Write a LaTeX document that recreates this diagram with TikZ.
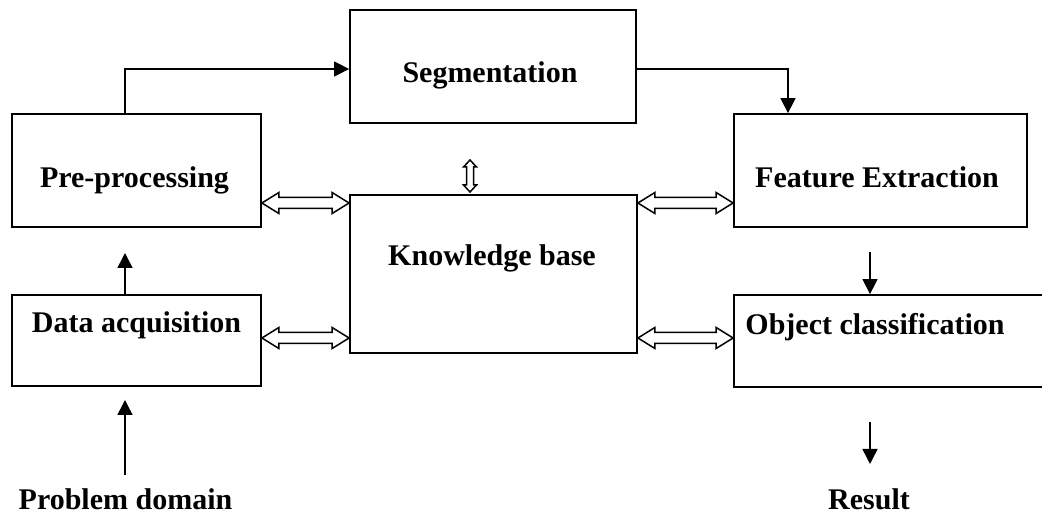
\documentclass[tikz,border=0pt]{standalone}
\usepackage{fontspec}
\setmainfont{Liberation Serif}
\usetikzlibrary{arrows.meta,calc}
\tikzset{
  box/.style={draw, line width=1.8pt, rectangle, inner sep=0pt},
  lbl/.style={font=\fontsize{30}{36}\selectfont\bfseries, anchor=base, inner sep=0pt},
  arr/.style={line width=1.5pt, -{Triangle[length=15pt,width=15pt]}},
  hollow/.style={draw, line width=1.5pt, fill=white, line join=miter}
}
\newcommand\hollowh[2]{\path[hollow] let \p1=(#1), \p2=(#2) in
  (\x1,\y1) -- (\x1+17pt,\y1+10.5pt) -- (\x1+17pt,\y1+5.5pt) -- (\x2-17pt,\y1+5.5pt)
  -- (\x2-17pt,\y1+10.5pt) -- (\x2,\y1) -- (\x2-17pt,\y1-10.5pt) -- (\x2-17pt,\y1-5.5pt)
  -- (\x1+17pt,\y1-5.5pt) -- (\x1+17pt,\y1-10.5pt) -- cycle;}
\newcommand\hollowv[2]{\path[hollow] let \p1=(#1), \p2=(#2) in
  (\x1,\y1) -- (\x1+6.5pt,\y1-7pt) -- (\x1+3.5pt,\y1-7pt) -- (\x1+3.5pt,\y2+7pt)
  -- (\x1+6.5pt,\y2+7pt) -- (\x1,\y2) -- (\x1-6.5pt,\y2+7pt) -- (\x1-3.5pt,\y2+7pt)
  -- (\x1-3.5pt,\y1-7pt) -- (\x1-6.5pt,\y1-7pt) -- cycle;}
\begin{document}
\begin{tikzpicture}[x=1pt,y=-1pt]
\clip (0,0) rectangle (1042,518);
\fill[white] (0,0) rectangle (1042,518);
% boxes
\node[box, minimum width=286pt, minimum height=113pt] (seg) at (493,66.5) {};
\node[box, minimum width=249pt, minimum height=113pt] (pre) at (136.5,170.5) {};
\node[box, minimum width=287pt, minimum height=158pt] (kb) at (493.5,274) {};
\node[box, minimum width=293pt, minimum height=113pt] (fe) at (880.5,170.5) {};
\node[box, minimum width=249pt, minimum height=91pt] (da) at (136.5,340.5) {};
\node[box, minimum width=340pt, minimum height=92pt] (oc) at (904,341) {};
% labels
\node[lbl] at (490,83) {Segmentation};
\node[lbl] at (134.5,188) {Pre-processing};
\node[lbl] at (877,188) {Feature Extraction};
\node[lbl] at (492,266) {Knowledge base};
\node[lbl] at (136.5,333) {Data acquisition};
\node[lbl] at (875,335) {Object classification};
\node[lbl] (pd) at (125.5,509) {Problem domain};
\node[lbl] (res) at (869,509) {Result};
% free ends
\coordinate (pdtop) at (125,475);
\coordinate (pdtip) at (125,400);
\coordinate (pretip) at (125,253);
\coordinate (restop) at (870,422);
\coordinate (restip) at (870,464);
\coordinate (fetip) at (870,252);
\coordinate (kbv1) at (470,160);
\coordinate (kbv2) at (470,192);
% connectors
\draw[arr] (pdtop) -- (pdtip);
\draw[arr] (pretip|-da.north) -- (pretip);
\draw[arr] (pre.north-|125,0) -- (125,69) -- (seg.west|-0,69);
\draw[arr] (seg.east|-0,69) -- (788,69) -- (fe.north-|788,0);
\draw[arr] (fetip) -- (fetip|-oc.north);
\draw[arr] (restop) -- (restip);
% hollow double arrows
\hollowh{pre.east|-0,203}{kb.west|-0,203}
\hollowh{da.east|-0,338}{kb.west|-0,338}
\hollowh{kb.east|-0,203}{fe.west|-0,203}
\hollowh{kb.east|-0,338}{oc.west|-0,338}
\hollowv{kbv1}{kbv2}
\end{tikzpicture}
\end{document}
